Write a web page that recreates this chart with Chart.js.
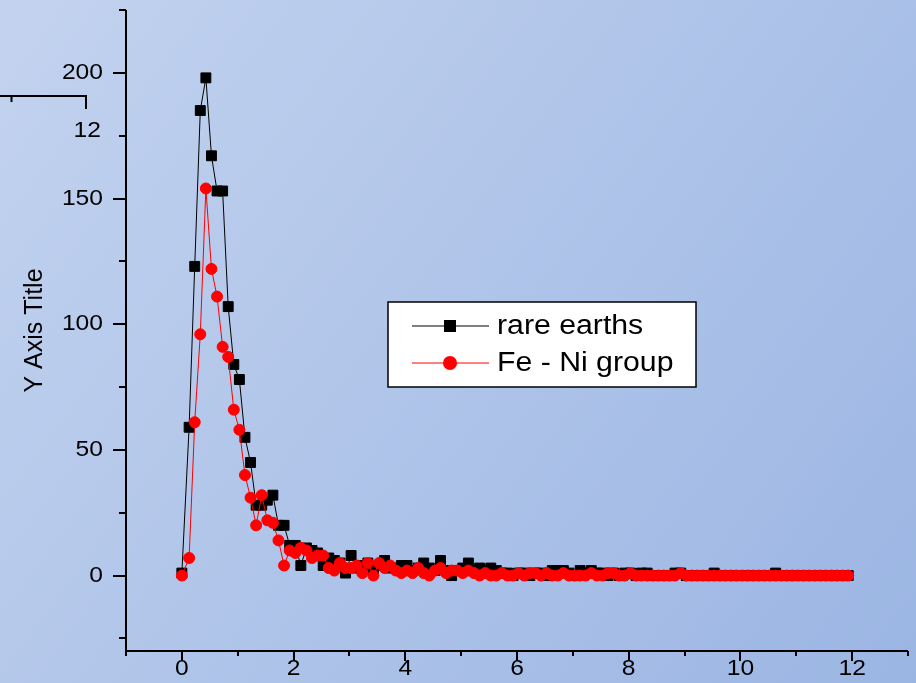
<!DOCTYPE html>
<html>
<head>
<meta charset="utf-8">
<script src="https://cdn.jsdelivr.net/npm/chart.js@4/dist/chart.umd.min.js"></script>
<style>
html,body{margin:0;padding:0;background:#b0c5ea;}
#wrap{width:916px;height:683px;}
</style>
</head>
<body>
<div id="wrap"><canvas id="c" width="916" height="683"></canvas></div>
<script>
// ---- data ----
const xValues = [
  0, 0.13, 0.23, 0.33, 0.43, 0.53, 0.63, 0.73, 0.83, 0.93,
  1.03, 1.13, 1.23, 1.33, 1.43, 1.53, 1.63, 1.73, 1.83, 1.93,
  2.03, 2.13, 2.23, 2.33, 2.43, 2.53, 2.63, 2.73, 2.83, 2.93,
  3.03, 3.13, 3.23, 3.33, 3.43, 3.53, 3.63, 3.73, 3.83, 3.93,
  4.03, 4.13, 4.23, 4.33, 4.43, 4.53, 4.63, 4.73, 4.83, 4.93,
  5.03, 5.13, 5.23, 5.33, 5.43, 5.53, 5.63, 5.73, 5.83, 5.93,
  6.03, 6.13, 6.23, 6.33, 6.43, 6.53, 6.63, 6.73, 6.83, 6.93,
  7.03, 7.13, 7.23, 7.33, 7.43, 7.53, 7.63, 7.73, 7.83, 7.93,
  8.03, 8.13, 8.23, 8.33, 8.43, 8.53, 8.63, 8.73, 8.83, 8.93,
  9.03, 9.13, 9.23, 9.33, 9.43, 9.53, 9.63, 9.73, 9.83, 9.93,
  10.03, 10.13, 10.23, 10.33, 10.43, 10.53, 10.63, 10.73, 10.83, 10.93,
  11.03, 11.13, 11.23, 11.33, 11.43, 11.53, 11.63, 11.73, 11.83, 11.93
];
const rareEarths = [
  1, 59, 123, 185, 198, 167, 153, 153, 107, 84,
  78, 55, 45, 28, 28, 30, 32, 20, 20, 12,
  12, 4, 11, 10, 9, 4, 7, 6, 5, 1,
  8, 3, 4, 5, 2, 4, 6, 3, 3, 4,
  4, 2, 3, 5, 3, 2, 6, 2, 0, 2,
  3, 5, 2, 3, 2, 3, 2, 1, 1, 0,
  1, 1, 0, 1, 1, 0, 2, 2, 2, 1,
  0, 2, 1, 2, 1, 1, 0, 1, 0, 1,
  1, 0, 1, 1, 0, 0, 0, 0, 1, 1,
  0, 0, 0, 0, 0, 1, 0, 0, 0, 0,
  0, 0, 0, 0, 0, 0, 1, 0, 0, 0,
  0, 0, 0, 0, 0, 0, 0, 0, 0, 0
];
const feNiGroup = [
  0, 7, 61, 96, 154, 122, 111, 91, 87, 66,
  58, 40, 31, 20, 32, 22, 21, 14, 4, 10,
  9, 11, 10, 7, 8, 8, 3, 2, 5, 3,
  3, 4, 1, 5, 0, 5, 3, 4, 2, 1,
  2, 1, 3, 1, 0, 2, 3, 1, 2, 2,
  1, 2, 1, 0, 1, 0, 0, 1, 0, 0,
  1, 0, 1, 1, 0, 1, 0, 0, 1, 0,
  0, 0, 0, 1, 0, 0, 1, 1, 0, 0,
  1, 0, 0, 0, 0, 0, 0, 0, 0, 1,
  0, 0, 0, 0, 0, 0, 0, 0, 0, 0,
  0, 0, 0, 0, 0, 0, 0, 0, 0, 0,
  0, 0, 0, 0, 0, 0, 0, 0, 0, 0
];
const seriesNames = ['rare earths', 'Fe - Ni group'];
const xTickLabels = ['0', '2', '4', '6', '8', '10', '12'];
const yTickLabels = ['0', '50', '100', '150', '200'];
const yAxisTitle = 'Y Axis Title';
const strayLabel = '12';

const FONT = '"Liberation Sans", Arial, sans-serif';
const TEXT_STRETCH = 1.12;
const toPts = ys => ys.map((y, i) => ({x: xValues[i], y: y}));

function stretchedText(ctx, txt, x, y, align) {
  ctx.save();
  ctx.translate(x, y);
  ctx.scale(TEXT_STRETCH, 1);
  ctx.textAlign = align;
  ctx.textBaseline = 'middle';
  ctx.fillText(txt, 0, 0);
  ctx.restore();
}

const bgPlugin = {
  id: 'bg',
  beforeDraw(chart) {
    const ctx = chart.ctx;
    const g = ctx.createLinearGradient(0, 0, chart.width, chart.height);
    g.addColorStop(0, '#c3d3ef');
    g.addColorStop(1, '#9bb5e3');
    ctx.save();
    ctx.fillStyle = g;
    ctx.fillRect(0, 0, chart.width, chart.height);
    ctx.restore();
  }
};

const axesPlugin = {
  id: 'axesTicks',
  afterDraw(chart) {
    const ctx = chart.ctx;
    const xs = chart.scales.x, ys = chart.scales.y;
    const a = chart.chartArea;
    ctx.save();
    ctx.strokeStyle = '#000';
    ctx.lineWidth = 2;
    ctx.beginPath();
    ctx.moveTo(a.left, a.top);
    ctx.lineTo(a.left, a.bottom + 1);
    ctx.moveTo(a.left - 1, a.bottom);
    ctx.lineTo(a.right, a.bottom);
    ctx.stroke();
    // y ticks (outward)
    ctx.beginPath();
    for (let v = Math.ceil(ys.min / 25) * 25; v <= ys.max + 1e-9; v += 25) {
      const py = Math.round(ys.getPixelForValue(v));
      const len = (v % 50 === 0) ? 13 : 7;
      ctx.moveTo(a.left, py);
      ctx.lineTo(a.left - len, py);
    }
    // x ticks (outward)
    for (let v = Math.ceil(xs.min); v <= xs.max + 1e-9; v += 1) {
      const px = Math.round(xs.getPixelForValue(v));
      const len = (Math.abs(v) % 2 === 0) ? 10 : 5;
      ctx.moveTo(px, a.bottom);
      ctx.lineTo(px, a.bottom + len);
    }
    ctx.stroke();

    // tick labels
    ctx.fillStyle = '#000';
    ctx.font = '22px ' + FONT;
    yTickLabels.forEach(t => {
      stretchedText(ctx, t, a.left - 23, ys.getPixelForValue(Number(t)), 'right');
    });
    xTickLabels.forEach(t => {
      stretchedText(ctx, t, xs.getPixelForValue(Number(t)), a.bottom + 18, 'center');
    });

    // axis title
    ctx.save();
    ctx.font = '25px ' + FONT;
    ctx.translate(35, (a.top + a.bottom) / 2);
    ctx.rotate(-Math.PI / 2);
    ctx.textAlign = 'center';
    ctx.textBaseline = 'middle';
    ctx.fillText(yAxisTitle, 0, 0);
    ctx.restore();

    // stray axis fragment at upper-left
    ctx.lineWidth = 2;
    ctx.beginPath();
    ctx.moveTo(0, 96); ctx.lineTo(87, 96);
    ctx.moveTo(86, 96); ctx.lineTo(86, 109);
    ctx.moveTo(11.5, 96); ctx.lineTo(11.5, 102);
    ctx.stroke();
    ctx.font = '22px ' + FONT;
    stretchedText(ctx, strayLabel, 101, 131, 'right');

    // legend
    const lx = 388, ly = 302, lw = 308, lh = 85;
    ctx.fillStyle = '#ffffff';
    ctx.fillRect(lx, ly, lw, lh);
    ctx.lineWidth = 1.5;
    ctx.strokeStyle = '#000';
    ctx.strokeRect(lx, ly, lw, lh);
    const rows = [326, 363];
    chart.data.datasets.forEach((ds, i) => {
      const yy = rows[i];
      ctx.strokeStyle = ds.borderColor;
      ctx.lineWidth = 1;
      ctx.beginPath();
      ctx.moveTo(412, yy); ctx.lineTo(489, yy);
      ctx.stroke();
      ctx.fillStyle = ds.pointBackgroundColor;
      if (ds.pointStyle === 'rect') {
        ctx.fillRect(444, yy - 6, 12, 12);
      } else {
        ctx.beginPath();
        ctx.arc(450, yy, 7, 0, Math.PI * 2);
        ctx.fill();
      }
      ctx.fillStyle = '#000';
      ctx.font = '27px ' + FONT;
      stretchedText(ctx, ds.label, 497, yy + 1, 'left');
    });
    ctx.restore();
  }
};

new Chart(document.getElementById('c'), {
  type: 'scatter',
  data: {
    datasets: [
      {
        label: seriesNames[0],
        data: toPts(rareEarths),
        showLine: true,
        borderColor: '#000000',
        backgroundColor: '#000000',
        pointBackgroundColor: '#000000',
        pointBorderColor: '#000000',
        borderWidth: 1,
        pointStyle: 'rect',
        pointRadius: 7,
        pointBorderWidth: 1,
        order: 2
      },
      {
        label: seriesNames[1],
        data: toPts(feNiGroup),
        showLine: true,
        borderColor: '#ff0000',
        backgroundColor: '#ff0000',
        pointBackgroundColor: '#ff0000',
        pointBorderColor: '#ff0000',
        borderWidth: 1,
        pointStyle: 'circle',
        pointRadius: 5.5,
        pointBorderWidth: 1,
        order: 1
      }
    ]
  },
  options: {
    responsive: false,
    animation: false,
    devicePixelRatio: 1,
    layout: {padding: {top: 10, right: 5, left: 126, bottom: 32}},
    plugins: {legend: {display: false}, tooltip: {enabled: false}},
    scales: {
      x: {type: 'linear', min: -1, max: 13, display: false},
      y: {type: 'linear', min: -30, max: 225, display: false}
    }
  },
  plugins: [bgPlugin, axesPlugin]
});
</script>
</body>
</html>
